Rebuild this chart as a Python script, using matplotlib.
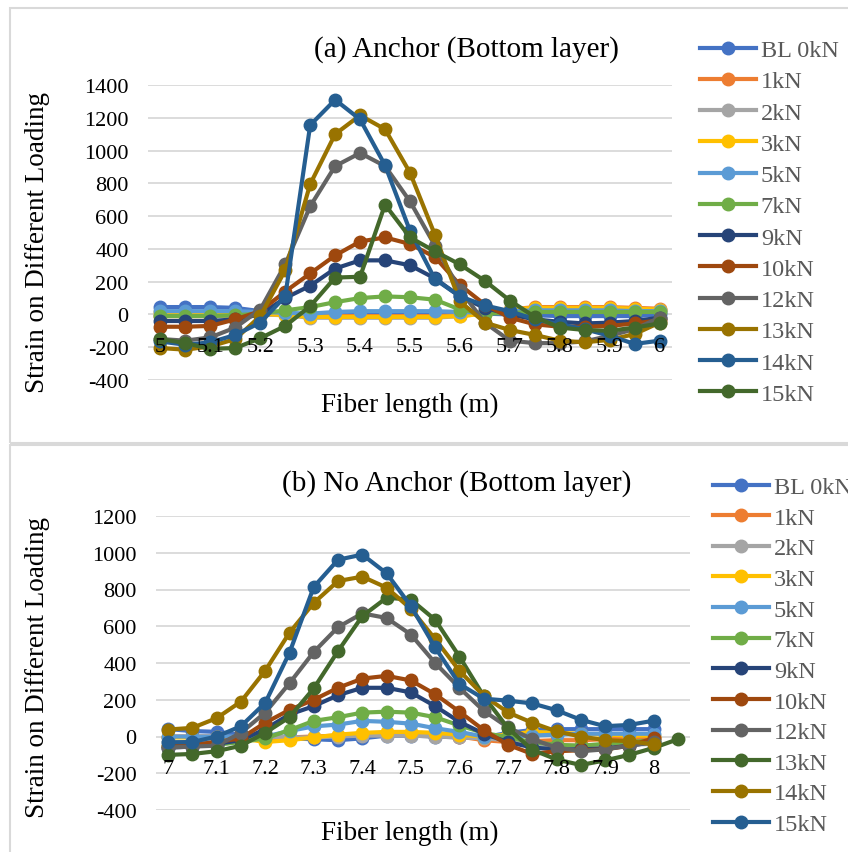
import matplotlib.pyplot as plt
from matplotlib.patches import Rectangle

plt.rcParams['font.family'] = ['Liberation Serif', 'DejaVu Serif']
plt.rcParams['axes.unicode_minus'] = False

# 系列名称与颜色 (Excel 默认调色板)
labels = ['BL 0kN', '1kN', '2kN', '3kN', '5kN', '7kN', '9kN', '10kN', '12kN', '13kN', '14kN', '15kN']
colors_a = ['#4472C4', '#ED7D31', '#A5A5A5', '#FFC000', '#5B9BD5', '#70AD47',
            '#264478', '#9E480E', '#636363', '#997300', '#255E91', '#43682B']
# 下图 13/14/15kN 颜色顺序不同
colors_b = ['#4472C4', '#ED7D31', '#A5A5A5', '#FFC000', '#5B9BD5', '#70AD47',
            '#264478', '#9E480E', '#636363', '#43682B', '#997300', '#255E91']

# (a) Anchor (Bottom layer)
x_a = [5.0, 5.05, 5.1, 5.15, 5.2, 5.25, 5.3, 5.35, 5.4, 5.45, 5.5,
       5.55, 5.6, 5.65, 5.7, 5.75, 5.8, 5.85, 5.9, 5.95, 6.0]
a_0kN = [45, 45, 45, 40, 20, 5, 0, 5, 5, 5, 5, 5, 10, 5, 0, -5, -10, -10, -10, -10, 0]
a_1kN = [-10, -10, -10, -5, 0, 0, -10, -10, -10, -10, -10, -10, -5, 10, 30, 45, 45, 45, 45, 40, 35]
a_2kN = [-5, -5, -5, -5, 0, -5, -20, -20, -20, -20, -20, -20, -10, 5, 25, 35, 35, 35, 35, 30, 25]
a_3kN = [15, 15, 15, 15, 5, -5, -15, -15, -15, -15, -15, -15, -10, 5, 30, 40, 40, 40, 40, 35, 30]
a_5kN = [20, 20, 20, 20, 15, 10, 5, 15, 20, 20, 20, 20, 15, 10, 20, 25, 25, 25, 25, 20, 20]
a_7kN = [-10, -10, -10, -5, 5, 25, 45, 75, 100, 110, 105, 90, 30, 5, 10, 15, 15, 15, 15, 15, 15]
a_9kN = [-40, -40, -40, -30, 0, 100, 175, 280, 330, 330, 300, 220, 110, 40, 0, -30, -45, -55, -50, -40, -20]
a_10kN = [-75, -75, -70, -30, 20, 140, 250, 360, 445, 470, 430, 350, 180, 60, -20, -60, -75, -75, -70, -55, -35]
a_12kN = [-150, -160, -140, -80, 30, 305, 660, 905, 985, 905, 690, 420, 150, -50, -160, -175, -175, -165, -130, -90, -20]
a_13kN = [-205, -215, -195, -150, -10, 270, 795, 1100, 1215, 1130, 865, 485, 80, -50, -95, -125, -160, -170, -155, -120, -50]
a_14kN = [-165, -185, -170, -125, -50, 110, 1155, 1310, 1190, 910, 510, 215, 110, 55, 20, -30, -60, -90, -130, -180, -160]
a_15kN = [-150, -175, -210, -205, -145, -70, 50, 225, 230, 670, 470, 385, 305, 205, 85, -15, -80, -95, -100, -80, -55]

# (b) No Anchor (Bottom layer)
x_b = [7.0, 7.05, 7.1, 7.15, 7.2, 7.25, 7.3, 7.35, 7.4, 7.45, 7.5,
       7.55, 7.6, 7.65, 7.7, 7.75, 7.8, 7.85, 7.9, 7.95, 8.0, 8.05]
b_0kN = [40, 30, 25, 10, 0, -10, -15, -20, -10, 5, 5, 0, -5, -5, 20, 35, 40, 40, 40, 40, 40]
b_1kN = [0, 0, 0, -5, -10, -5, 0, 5, 10, 15, 10, 5, 0, -20, -30, -25, -20, -20, -15, -10, -10]
b_2kN = [-30, -30, -20, -10, 0, -5, -5, 0, 5, 5, 5, 0, -5, -10, -20, -40, -50, -50, -50, -45, -40]
b_3kN = [-5, -5, -5, -10, -30, -20, -5, 10, 20, 25, 25, 20, 10, 0, 10, 25, 20, 15, 10, 5, 5]
b_5kN = [0, 0, 0, 0, 0, 30, 55, 65, 85, 80, 70, 45, 25, 0, 0, 5, 10, 15, 15, 15, 15]
b_7kN = [-50, -50, -45, -30, -10, 35, 85, 105, 130, 135, 130, 105, 60, 20, -5, -30, -45, -50, -40, -30, -20]
b_9kN = [-60, -55, -40, -20, 40, 120, 165, 225, 265, 265, 240, 165, 80, 15, -30, -60, -70, -70, -65, -50, -30]
b_10kN = [-50, -45, -30, -10, 75, 145, 200, 265, 315, 330, 305, 230, 135, 35, -45, -95, -80, -75, -70, -50, -10]
b_12kN = [-60, -55, -50, 20, 130, 290, 460, 595, 670, 645, 555, 400, 265, 140, 50, -15, -60, -80, -70, -50, -30]
b_13kN = [-100, -95, -80, -50, 20, 105, 262, 465, 655, 755, 745, 635, 435, 220, 45, -72, -125, -155, -130, -100, -62, -15]
b_14kN = [38, 47, 100, 190, 358, 565, 727, 846, 870, 810, 695, 530, 358, 222, 131, 75, 28, 0, -20, -25, -43]
b_15kN = [-32, -30, 0, 56, 183, 456, 814, 962, 990, 888, 710, 485, 286, 206, 195, 180, 143, 91, 56, 63, 86]

series_a = [a_0kN, a_1kN, a_2kN, a_3kN, a_5kN, a_7kN, a_9kN, a_10kN, a_12kN, a_13kN, a_14kN, a_15kN]
series_b = [b_0kN, b_1kN, b_2kN, b_3kN, b_5kN, b_7kN, b_9kN, b_10kN, b_12kN, b_13kN, b_14kN, b_15kN]

xticks_a = [5, 5.1, 5.2, 5.3, 5.4, 5.5, 5.6, 5.7, 5.8, 5.9, 6]
xticks_b = [7, 7.1, 7.2, 7.3, 7.4, 7.5, 7.6, 7.7, 7.8, 7.9, 8]
yticks_a = [-400, -200, 0, 200, 400, 600, 800, 1000, 1200, 1400]
yticks_b = [-400, -200, 0, 200, 400, 600, 800, 1000, 1200]

W, H = 848, 853
fig = plt.figure(figsize=(W / 100, H / 100), dpi=100)

# 外框
fig.add_artist(Rectangle((10 / W, 1 - 444 / H), 2, 435 / H, transform=fig.transFigure,
                         fill=False, ec='#D9D9D9', lw=1.5))
fig.add_artist(Rectangle((10 / W, -1), 2, 1 + 1 - 446 / H, transform=fig.transFigure,
                         fill=False, ec='#D9D9D9', lw=1.5))

ax1 = fig.add_axes([148 / W, 1 - 381 / H, 524 / W, 295 / H])
ax2 = fig.add_axes([156 / W, 1 - 811 / H, 534 / W, 294 / H])


def draw(ax, x, series, cols, xlim, ylim, xticks, yticks):
    # 网格线放在最下面, 刻度文字在曲线之上
    for t in yticks:
        ax.axhline(t, color='#D9D9D9', lw=1.3, zorder=0.5)
    for s, lab, c in zip(series, labels, cols):
        ax.plot(x[:len(s)], s, '-o', color=c, lw=3, ms=9, label=lab, clip_on=False)
    ax.set_axisbelow(False)
    ax.set_xlim(xlim)
    ax.set_ylim(ylim)
    ax.set_xticks(xticks)
    ax.set_xticklabels(['%g' % t for t in xticks])
    ax.set_yticks(yticks)
    ax.set_yticklabels([str(t) for t in yticks])
    for sp in ax.spines.values():
        sp.set_visible(False)
    ax.spines['bottom'].set_position(('data', 0))
    ax.tick_params(axis='x', length=0, labelsize=16, pad=16)
    ax.tick_params(axis='y', length=0, labelsize=16, pad=14)


draw(ax1, x_a, series_a, colors_a, (4.975, 6.025), (-400, 1400), xticks_a, yticks_a)
draw(ax2, x_b, series_b, colors_b, (6.975, 8.075), (-400, 1200), xticks_b, yticks_b)

fig.text(466 / W, 1 - 50 / H, '(a) Anchor (Bottom layer)', fontsize=21, ha='center', va='center')
fig.text(457 / W, 1 - 484 / H, '(b) No Anchor (Bottom layer)', fontsize=21, ha='center', va='center')
fig.text(38 / W, 1 - 243 / H, 'Strain on Different Loading', fontsize=19.5, rotation=90, ha='center', va='center')
fig.text(38 / W, 1 - 668 / H, 'Strain on Different Loading', fontsize=19.5, rotation=90, ha='center', va='center')
fig.text(410 / W, 1 - 405 / H, 'Fiber length (m)', fontsize=19.5, ha='center', va='center')
fig.text(410 / W, 1 - 833 / H, 'Fiber length (m)', fontsize=19.5, ha='center', va='center')

for ax, x0, y0, sp in [(ax1, 700, 40, 0.38), (ax2, 713, 477, 0.355)]:
    h, l = ax.get_legend_handles_labels()
    leg = fig.legend(h, l, loc='upper left', bbox_to_anchor=(x0 / W, 1 - y0 / H),
                     frameon=False, fontsize=17.5, labelspacing=sp, handlelength=2.3,
                     handletextpad=0.2, borderpad=0, borderaxespad=0)
    for t in leg.get_texts():
        t.set_color('#595959')

fig.savefig('out.png', dpi=100, facecolor='white')
